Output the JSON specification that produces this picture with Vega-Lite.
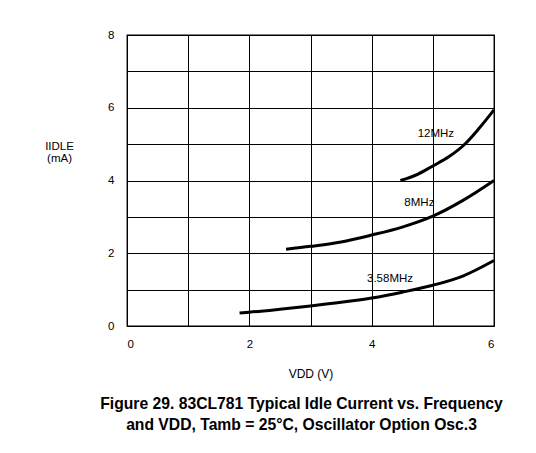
{
  "$schema": "https://vega.github.io/schema/vega-lite/v6.json",
  "width": 367,
  "height": 291,
  "autosize": {"type": "none"},
  "padding": {"left": 127, "top": 35, "right": 42, "bottom": 127},
  "background": "white",
  "config": {
    "font": "Liberation Sans",
    "view": {"stroke": "black", "strokeWidth": 1.3}
  },
  "title": {
    "text": ["Figure 29. 83CL781 Typical Idle Current vs. Frequency", "and VDD, Tamb = 25°C, Oscillator Option Osc.3"],
    "orient": "bottom",
    "frame": "group",
    "anchor": "middle",
    "baseline": "alphabetic",
    "fontSize": 15.7,
    "fontWeight": "bold",
    "font": "Liberation Sans",
    "color": "black",
    "lineHeight": 21,
    "offset": 30,
    "dx": -9
  },
  "datasets": {
    "curves": [
      {"series": "3.58MHz", "vdd": 1.84, "idle": 0.36},
      {"series": "3.58MHz", "vdd": 2.0, "idle": 0.38},
      {"series": "3.58MHz", "vdd": 2.5, "idle": 0.46},
      {"series": "3.58MHz", "vdd": 3.0, "idle": 0.55},
      {"series": "3.58MHz", "vdd": 3.5, "idle": 0.65},
      {"series": "3.58MHz", "vdd": 4.0, "idle": 0.77},
      {"series": "3.58MHz", "vdd": 4.5, "idle": 0.93},
      {"series": "3.58MHz", "vdd": 5.0, "idle": 1.12},
      {"series": "3.58MHz", "vdd": 5.5, "idle": 1.38},
      {"series": "3.58MHz", "vdd": 6.0, "idle": 1.8},
      {"series": "8MHz", "vdd": 2.6, "idle": 2.11},
      {"series": "8MHz", "vdd": 3.0, "idle": 2.19},
      {"series": "8MHz", "vdd": 3.5, "idle": 2.31},
      {"series": "8MHz", "vdd": 4.0, "idle": 2.5},
      {"series": "8MHz", "vdd": 4.5, "idle": 2.72},
      {"series": "8MHz", "vdd": 5.0, "idle": 3.02},
      {"series": "8MHz", "vdd": 5.5, "idle": 3.46},
      {"series": "8MHz", "vdd": 6.0, "idle": 4.0},
      {"series": "12MHz", "vdd": 4.47, "idle": 4.0},
      {"series": "12MHz", "vdd": 4.75, "idle": 4.17},
      {"series": "12MHz", "vdd": 5.0, "idle": 4.4},
      {"series": "12MHz", "vdd": 5.26, "idle": 4.65},
      {"series": "12MHz", "vdd": 5.53, "idle": 5.01},
      {"series": "12MHz", "vdd": 5.75, "idle": 5.42},
      {"series": "12MHz", "vdd": 6.0, "idle": 5.94}
    ],
    "labels": [
      {"vdd": 5.05, "idle": 5.28, "label": "12MHz"},
      {"vdd": 4.78, "idle": 3.39, "label": "8MHz"},
      {"vdd": 4.3, "idle": 1.29, "label": "3.58MHz"}
    ]
  },
  "encoding": {
    "x": {
      "field": "vdd", "type": "quantitative",
      "scale": {"domain": [0, 6], "nice": false, "zero": false},
      "axis": {
        "values": [0, 1, 2, 3, 4, 5, 6],
        "format": "d",
        "labelExpr": "datum.value % 2 == 0 ? datum.label : ''",
        "grid": true, "gridColor": "black", "gridOpacity": 1, "gridWidth": 1,
        "domain": false, "ticks": false,
        "labelPadding": 12, "labelFontSize": 11.5, "labelColor": "black", "labelFont": "Liberation Sans",
        "title": "VDD (V)", "titleFontSize": 12, "titleFontWeight": "normal", "titleColor": "black",
        "titleFont": "Liberation Sans", "titleBaseline": "alphabetic", "titleY": 51
      }
    },
    "y": {
      "field": "idle", "type": "quantitative",
      "scale": {"domain": [0, 8], "nice": false, "zero": false},
      "axis": {
        "values": [0, 1, 2, 3, 4, 5, 6, 7, 8],
        "format": "d",
        "labelExpr": "datum.value % 2 == 0 ? datum.label : ''",
        "grid": true, "gridColor": "black", "gridOpacity": 1, "gridWidth": 1,
        "domain": false, "ticks": false,
        "labelPadding": 13, "labelFontSize": 11.5, "labelColor": "black", "labelFont": "Liberation Sans",
        "title": ["IIDLE", "(mA)"], "titleAngle": 0, "titleAlign": "center", "titleBaseline": "alphabetic",
        "titleX": -68, "titleY": 114, "titleFontSize": 11.5, "titleFontWeight": "normal", "titleColor": "black",
        "titleFont": "Liberation Sans", "titleLineHeight": 12.5
      }
    }
  },
  "layer": [
    {
      "data": {"name": "curves"},
      "mark": {"type": "line", "color": "black", "strokeWidth": 3, "interpolate": "monotone", "strokeCap": "butt"},
      "encoding": {
        "detail": {"field": "series"}
      }
    },
    {
      "data": {"name": "labels"},
      "mark": {"type": "text", "color": "black", "fontSize": 11.5, "font": "Liberation Sans"},
      "encoding": {
        "text": {"field": "label"}
      }
    }
  ]
}
